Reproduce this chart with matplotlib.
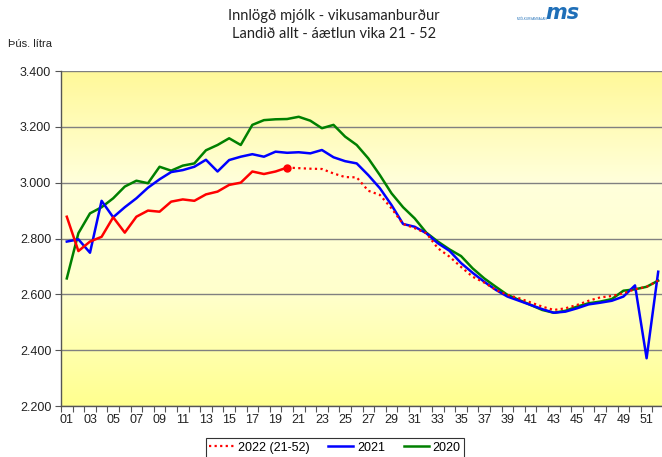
import numpy as np
import matplotlib
matplotlib.use("Agg")
import matplotlib.pyplot as plt
from matplotlib.ticker import FuncFormatter

weeks = np.arange(1, 53)
week_labels = ['%02d' % w for w in range(1, 53, 2)]

# 2022: weeks 1-20 actual, 21-52 forecast (aetlun)
milk_2022 = [2878, 2755, 2789, 2806, 2876, 2821, 2878, 2900, 2896, 2932,
             2940, 2935, 2958, 2968, 2992, 3000, 3040, 3031, 3040, 3054,
             3052, 3050, 3049, 3033, 3020, 3019, 2971, 2956, 2908, 2852,
             2837, 2819, 2765, 2735, 2698, 2663, 2642, 2616, 2598, 2586,
             2571, 2556, 2544, 2550, 2562, 2577, 2589, 2594, 2604, 2618,
             2627, 2649]
milk_2021 = [2789, 2797, 2749, 2935, 2876, 2912, 2944, 2982, 3012, 3038,
             3045, 3057, 3082, 3040, 3081, 3093, 3102, 3093, 3111, 3107,
             3109, 3105, 3117, 3091, 3077, 3069, 3027, 2980, 2920, 2852,
             2842, 2819, 2783, 2756, 2712, 2677, 2645, 2616, 2592, 2577,
             2562, 2547, 2534, 2538, 2550, 2564, 2570, 2577, 2592, 2632,
             2371, 2681]
milk_2020 = [2657, 2819, 2890, 2912, 2944, 2986, 3007, 2998, 3057, 3043,
             3061, 3069, 3116, 3135, 3159, 3135, 3207, 3224, 3227, 3228,
             3236, 3222, 3195, 3207, 3165, 3135, 3087, 3027, 2962, 2912,
             2872, 2821, 2789, 2761, 2737, 2693, 2657, 2627, 2598, 2580,
             2562, 2544, 2534, 2541, 2556, 2568, 2574, 2583, 2613, 2618,
             2627, 2649]
n_actual = 20

fig = plt.figure(figsize=(6.62, 4.57), dpi=100)
ax = fig.add_axes([61/662, 1-406/457, 603/662, 335/457])

# yellow gradient background
grad = np.array([[1.0, 0.975, 0.6], [1.0, 1.0, 0.86], [1.0, 1.0, 0.80], [1.0, 1.0, 0.56]])
t = np.linspace(0, 1, 256)
stops = np.linspace(0, 1, len(grad))
img = np.stack([np.interp(t, stops, grad[:, c]) for c in range(3)], axis=1)[:, None, :]
ax.imshow(img, extent=[0, 1, 0, 1], transform=ax.transAxes, aspect='auto', zorder=0)

ax.set_xlim(0.5, 52.5)
ax.set_ylim(2200, 3400)
ax.set_yticks(np.arange(2200, 3401, 200))
ax.yaxis.set_major_formatter(FuncFormatter(lambda v, p: ('%d' % v)[0] + '.' + ('%d' % v)[1:]))
ax.grid(axis='y', color='#808080', lw=1.0, zorder=1)

ax.plot(weeks[:n_actual], milk_2022[:n_actual], color='#ff0000', lw=1.8, zorder=4,
        solid_joinstyle='round')
ax.plot(weeks[n_actual-1:], milk_2022[n_actual-1:], color='#ff0000', lw=1.6, ls=(0, (1, 1.5)),
        zorder=4, label='2022 (21-52)')
ax.plot(weeks[n_actual-1], milk_2022[n_actual-1], 'o', color='#ff0000', ms=5, zorder=5)
ax.plot(weeks, milk_2021, color='#0000ff', lw=1.8, zorder=3, label='2021', solid_joinstyle='round')
ax.plot(weeks, milk_2020, color='#008000', lw=1.8, zorder=2, label='2020', solid_joinstyle='round')

ax.set_xticks(np.arange(0.5, 53, 1))
ax.set_xticklabels([])
ax.set_xticks(np.arange(1, 53, 2), minor=True)
ax.set_xticklabels(week_labels, minor=True)
ax.tick_params(axis='x', which='major', length=4, width=0.8, color='#555555', direction='out')
ax.tick_params(axis='x', which='minor', length=0, pad=6)
ax.tick_params(axis='y', length=4, width=0.8, color='#555555', pad=3)
for lab in ax.get_xticklabels(minor=True) + ax.get_yticklabels():
    lab.set_family('Liberation Sans')
    lab.set_fontsize(9)
    lab.set_color('#222222')

for s in ['top', 'right']:
    ax.spines[s].set_visible(False)
for s in ['left', 'bottom']:
    ax.spines[s].set_color('#555555')
    ax.spines[s].set_linewidth(1.0)

fig.text(334/662, 1-16/457, 'Innlögð mjólk - vikusamanburður', ha='center', va='center',
         family='Lato', fontsize=10.5, color='#222222')
fig.text(334/662, 1-34/457, 'Landið allt - áætlun vika 21 - 52', ha='center', va='center',
         family='Lato', fontsize=10.5, color='#222222')
fig.text(8/662, 1-44/457, 'Þús. lítra', ha='left', va='center',
         family='Liberation Sans', fontsize=8, color='#222222')

# logo
fig.text(562/662, 1-13/457, 'ms', ha='center', va='center', family='DejaVu Sans',
         fontsize=15, fontweight='bold', style='italic', color='#1f6fb8')
fig.text(532/662, 1-19/457, 'MJÓLKURSAMSALAN', ha='center', va='center',
         family='Liberation Sans', fontsize=2.2, color='#1f6fb8')

leg = fig.legend(loc='upper center', bbox_to_anchor=(335/662, 1-438/457), ncol=3,
                 frameon=True, fancybox=False, edgecolor='#333333', framealpha=1,
                 prop={'family': 'Liberation Sans', 'size': 9}, handlelength=2.0,
                 handletextpad=0.3, columnspacing=1.5, borderpad=0.3, borderaxespad=0)
leg.get_frame().set_linewidth(0.8)

fig.savefig('out.png', dpi=100)
